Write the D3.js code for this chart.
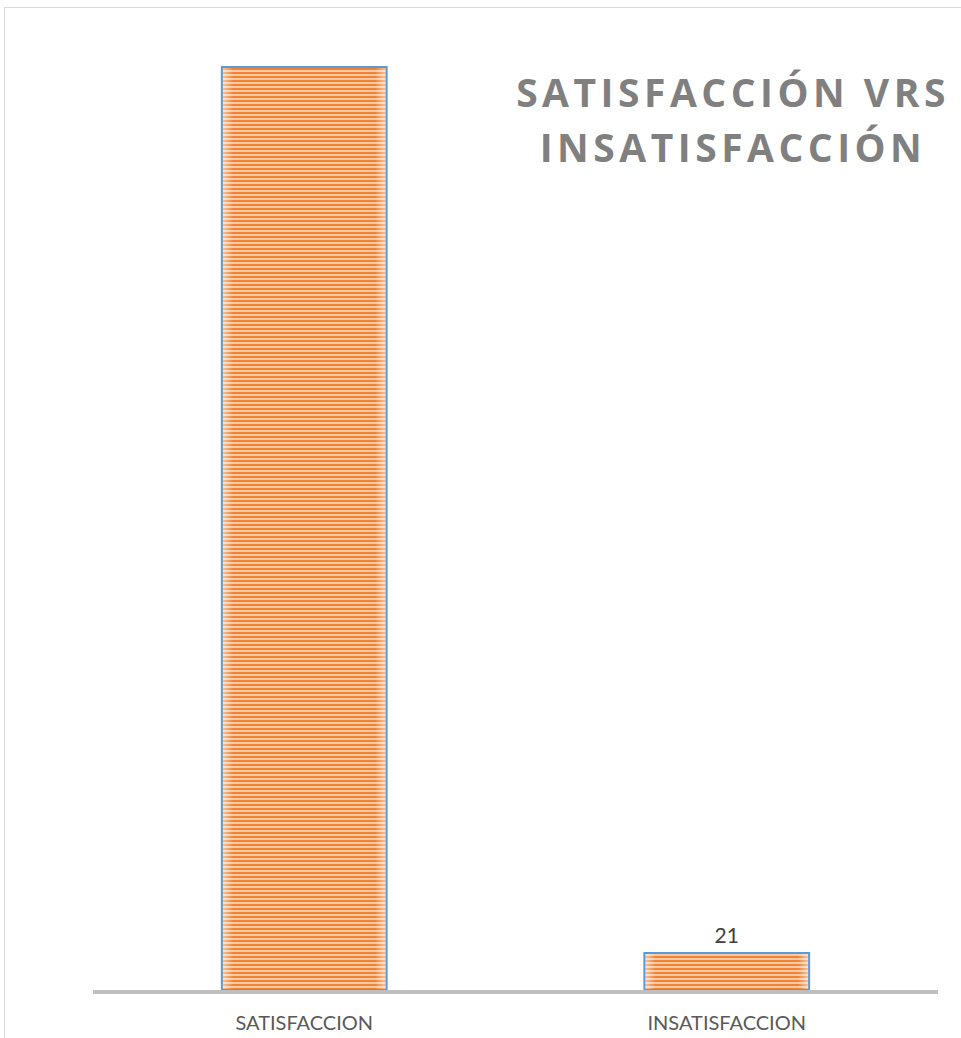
<!DOCTYPE html>
<html lang="es">
<head>
<meta charset="UTF-8">
<title>Satisfacción vrs Insatisfacción</title>
<script src="https://d3js.org/d3.v7.min.js"></script>
<style>
  body { margin: 0; background: #fff; }
  svg { display: block; }
</style>
</head>
<body>
<div id="chart"></div>
<script>
// data
const categories = ["SATISFACCION", "INSATISFACCION"];
const values = [524, 21];
const labelShown = [false, true];
const titleLines = ["SATISFACCIÓN VRS", "INSATISFACCIÓN"];

const w = 961, h = 1038;
const plot = { left: 93, right: 938, top: 67, bottom: 990 };

const svg = d3.select("#chart").append("svg")
  .attr("width", w)
  .attr("height", h);

// stripes + pale edges like the original fill
const defs = svg.append("defs");
const pat = defs.append("pattern")
  .attr("id", "stripes")
  .attr("patternUnits", "userSpaceOnUse")
  .attr("width", 8).attr("height", 4);
pat.append("rect").attr("width", 8).attr("height", 4).attr("fill", "#f9c9a4");
pat.append("rect").attr("width", 8).attr("height", 2).attr("fill", "#ef8233");

const grad = defs.append("linearGradient").attr("id", "edgeGlow")
  .attr("x1", "0").attr("x2", "1").attr("y1", "0").attr("y2", "0");
grad.append("stop").attr("offset", "0").attr("stop-color", "#fff").attr("stop-opacity", 0.55);
grad.append("stop").attr("offset", "0.07").attr("stop-color", "#fff").attr("stop-opacity", 0);
grad.append("stop").attr("offset", "0.93").attr("stop-color", "#fff").attr("stop-opacity", 0);
grad.append("stop").attr("offset", "1").attr("stop-color", "#fff").attr("stop-opacity", 0.55);

// chart area border
svg.append("rect")
  .attr("x", 4.5).attr("y", 7.5)
  .attr("width", w + 10).attr("height", h + 10)
  .attr("fill", "none")
  .attr("stroke", "#d9d9d9");

const x = d3.scaleBand()
  .domain(categories)
  .range([plot.left, plot.right])
  .paddingInner(0.61)
  .paddingOuter(0.305);

const y = d3.scaleLinear()
  .domain([0, d3.max(values)])
  .range([plot.bottom, plot.top]);

const data = categories.map((c, i) => ({ cat: c, val: values[i], show: labelShown[i] }));

const bars = svg.append("g").selectAll("g")
  .data(data)
  .join("g");

bars.append("rect")
  .attr("x", d => x(d.cat))
  .attr("y", d => y(d.val))
  .attr("width", x.bandwidth())
  .attr("height", d => y(0) - y(d.val))
  .attr("fill", "url(#stripes)");

bars.append("rect")
  .attr("x", d => x(d.cat))
  .attr("y", d => y(d.val))
  .attr("width", x.bandwidth())
  .attr("height", d => y(0) - y(d.val))
  .attr("fill", "url(#edgeGlow)")
  .attr("stroke", "#5b9bd5")
  .attr("stroke-width", 2);

// value labels
svg.append("g").selectAll("text")
  .data(data.filter(d => d.show))
  .join("text")
  .attr("x", d => x(d.cat) + x.bandwidth() / 2)
  .attr("y", d => y(d.val) - 10)
  .attr("text-anchor", "middle")
  .attr("font-family", "Lato, 'Open Sans', sans-serif")
  .attr("font-size", 21)
  .attr("fill", "#404040")
  .text(d => d.val);

// x axis
const xAxis = svg.append("g")
  .attr("transform", "translate(0," + plot.bottom + ")")
  .call(d3.axisBottom(x).tickSize(0).tickPadding(26));
xAxis.select(".domain")
  .attr("d", "M" + plot.left + ",2H" + plot.right)
  .attr("stroke", "#bfbfbf")
  .attr("stroke-width", 4);
xAxis.selectAll("text")
  .attr("font-family", "Lato, 'Open Sans', sans-serif")
  .attr("font-size", 20)
  .attr("fill", "#595959");

// title
svg.append("text")
  .attr("x", 733)
  .attr("text-anchor", "middle")
  .attr("font-family", "'Open Sans', sans-serif")
  .attr("font-weight", "bold")
  .attr("font-size", 39)
  .attr("letter-spacing", 4.5)
  .attr("fill", "#808080")
  .selectAll("tspan")
  .data(titleLines)
  .join("tspan")
  .attr("x", 733)
  .attr("y", (d, i) => 107 + i * 55)
  .text(d => d);
</script>
</body>
</html>
